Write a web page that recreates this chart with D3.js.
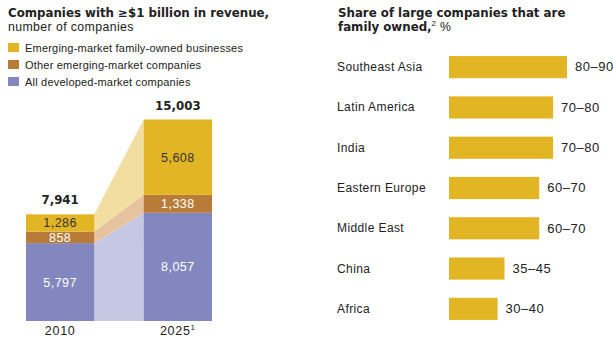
<!DOCTYPE html>
<html>
<head>
<meta charset="utf-8">
<script src="https://cdn.jsdelivr.net/npm/d3@7"></script>
<style>
  html, body { margin: 0; padding: 0; background: #fff; }
  svg { display: block; font-family: "Liberation Sans", Arial, Helvetica, sans-serif; }
  .heavy { font-family: "DejaVu Sans", "Liberation Sans", sans-serif; font-weight: bold; }
</style>
</head>
<body>
<svg id="chart" width="613" height="338"></svg>
<script>
// Left panel: companies with >= $1 billion revenue
const years = ["2010", "2025"];
const yearLabels = ["2010", "2025"];
const seriesNames = ["All developed-market companies", "Other emerging-market companies", "Emerging-market family-owned businesses"];
const developed = [5797, 8057];
const otherEmerging = [858, 1338];
const familyOwned = [1286, 5608];
const totals = [7941, 15003];

// Right panel: share of large companies that are family owned
const regions = ["Southeast Asia", "Latin America", "India", "Eastern Europe", "Middle East", "China", "Africa"];
const shareLow = [80, 70, 70, 60, 60, 35, 30];
const shareHigh = [90, 80, 80, 70, 70, 45, 40];

const colors = ["#8287c0", "#b87c38", "#e2b524"];
const lightColors = ["#c6c7e3", "#e6c39e", "#f2dea0"];
const labelColors = ["#ffffff", "#ffffff", "#333333"];

const svg = d3.select("#chart");
const ink = "#222";

// ---- Left panel ----
const left = svg.append("g");
left.append("text").attr("class", "heavy").attr("x", 8).attr("y", 16.5)
  .attr("font-size", 11.8).attr("fill", ink)
  .text("Companies with \u2265$1 billion in revenue,");
left.append("text").attr("x", 8).attr("y", 30.5)
  .attr("font-size", 12.3).attr("letter-spacing", 0.4).attr("fill", ink)
  .text("number of companies");

// legend (top to bottom: family-owned, other emerging, developed)
const legendOrder = [2, 1, 0];
legendOrder.forEach((s, i) => {
  const y = 43 + i * 17;
  left.append("rect").attr("x", 8).attr("y", y).attr("width", 11).attr("height", 9).attr("fill", colors[s]);
  left.append("text").attr("x", 25).attr("y", y + 8.5).attr("font-size", 11).attr("letter-spacing", 0.2)
    .attr("fill", ink).text(seriesNames[s]);
});

const rows = years.map((yr, i) => ({ year: yr, dev: developed[i], other: otherEmerging[i], fam: familyOwned[i] }));
const stack = d3.stack().keys(["dev", "other", "fam"]);
const stacked = stack(rows);

const x = d3.scaleBand().domain(years).range([26, 212]).paddingInner(0.42).paddingOuter(0);
const y = d3.scaleLinear().domain([0, 15003]).range([321, 119.5]);

// connector bands between the two columns
const x0 = x(years[0]) + x.bandwidth();
const x1 = x(years[1]);
stacked.forEach((layer, s) => {
  const pts = [{ x: x0, d: layer[0] }, { x: x1, d: layer[1] }];
  const area = d3.area().x(p => p.x).y0(p => y(p.d[0])).y1(p => y(p.d[1]));
  left.append("path").attr("d", area(pts)).attr("fill", lightColors[s]);
});

// stacked columns
stacked.forEach((layer, s) => {
  left.selectAll(null).data(layer).join("rect")
    .attr("x", d => x(d.data.year))
    .attr("width", x.bandwidth())
    .attr("y", d => y(d[1]))
    .attr("height", d => y(d[0]) - y(d[1]))
    .attr("fill", colors[s]);
  left.selectAll(null).data(layer).join("text")
    .attr("x", d => x(d.data.year) + x.bandwidth() / 2)
    .attr("y", d => (y(d[0]) + y(d[1])) / 2 + 4.5)
    .attr("text-anchor", "middle")
    .attr("font-size", 12.5).attr("letter-spacing", 0.5)
    .attr("fill", labelColors[s])
    .text(d => d3.format(",")(d[1] - d[0]));
});

// totals
left.selectAll(null).data(years).join("text")
  .attr("class", "heavy")
  .attr("x", d => x(d) + x.bandwidth() / 2)
  .attr("y", (d, i) => y(totals[i]) - 10)
  .attr("text-anchor", "middle")
  .attr("font-size", 11.8).attr("fill", ink)
  .text((d, i) => d3.format(",")(totals[i]));

// year labels
const yl = left.selectAll(null).data(years).join("text")
  .attr("x", d => x(d) + x.bandwidth() / 2)
  .attr("y", 335)
  .attr("text-anchor", "middle")
  .attr("font-size", 12.5).attr("letter-spacing", 0.7).attr("fill", ink);
yl.text((d, i) => yearLabels[i]);
yl.filter((d, i) => i === 1).append("tspan").attr("font-size", 8).attr("dy", -5).text("1");

// ---- Right panel ----
const right = svg.append("g");
right.append("text").attr("class", "heavy").attr("x", 338).attr("y", 16.5)
  .attr("font-size", 11.8).attr("fill", ink)
  .text("Share of large companies that are");
const t2 = right.append("text").attr("x", 338).attr("y", 30.5).attr("fill", ink);
t2.append("tspan").attr("class", "heavy").attr("font-size", 11.8).text("family owned,");
t2.append("tspan").attr("font-size", 8).attr("dy", -5).text("2");
t2.append("tspan").attr("dy", 5).attr("font-size", 12.3).attr("letter-spacing", 0.4).text(" %");

const mid = regions.map((r, i) => (shareLow[i] + shareHigh[i]) / 2);
const xr = d3.scaleLinear().domain([0, 100]).range([449, 449 + 138.8]);
const yr = d3.scaleBand().domain(regions).range([47, 329]).paddingInner(0.45).paddingOuter(0.225);

right.selectAll(null).data(regions).join("rect")
  .attr("x", xr(0))
  .attr("y", d => yr(d))
  .attr("width", (d, i) => xr(mid[i]) - xr(0))
  .attr("height", yr.bandwidth())
  .attr("fill", colors[2]);

right.selectAll(null).data(regions).join("text")
  .attr("x", 337)
  .attr("y", d => yr(d) + yr.bandwidth() / 2 + 4)
  .attr("font-size", 12).attr("letter-spacing", 0.4).attr("fill", ink)
  .text(d => d);

right.selectAll(null).data(regions).join("text")
  .attr("x", (d, i) => xr(mid[i]) + 8)
  .attr("y", d => yr(d) + yr.bandwidth() / 2 + 4.3)
  .attr("font-size", 13).attr("letter-spacing", 0.5).attr("fill", ink)
  .text((d, i) => shareLow[i] + "\u2013" + shareHigh[i]);
</script>
</body>
</html>
